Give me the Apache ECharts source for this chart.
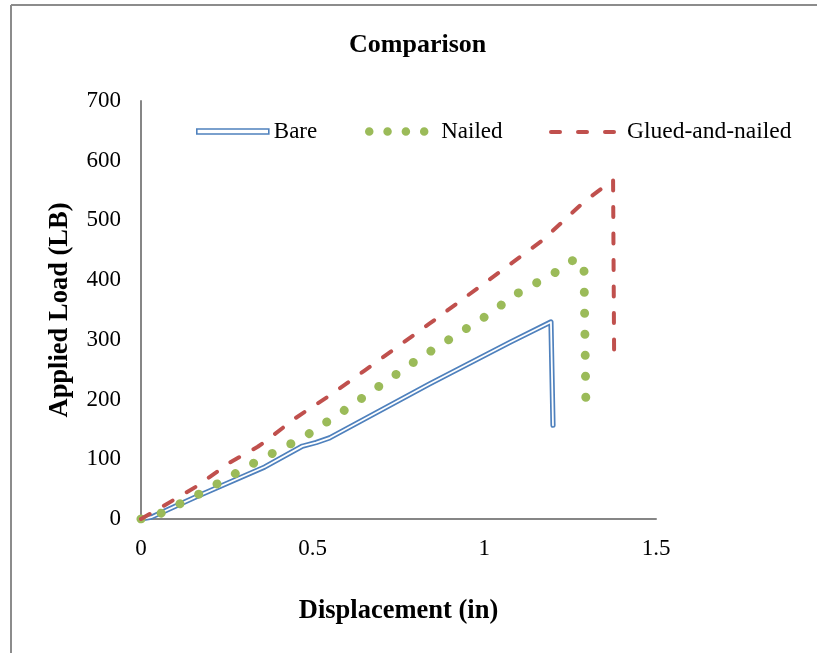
<!DOCTYPE html>
<html>
<head>
<meta charset="utf-8">
<style>html,body{margin:0;padding:0;background:#fff;}#c{width:817px;height:653px;}</style>
<script src="https://cdn.jsdelivr.net/npm/echarts@6/dist/echarts.min.js"></script>
</head>
<body>
<div id="c"></div>
<script>
const xTicks = [0, 0.5, 1, 1.5];
const yTicks = [0, 100, 200, 300, 400, 500, 600, 700];

const bareX = [0, 0.03, 0.16, 0.36, 0.47, 0.51, 0.55, 0.84, 1.075, 1.194, 1.200];
const bareY = [0, 3, 37, 87, 122, 128, 136, 226, 296, 330, 157];

const nailedX = [0, 0.06, 0.17, 0.33, 0.44, 0.49, 0.60, 0.80, 1.00, 1.10, 1.21, 1.26, 1.29, 1.296];
const nailedY = [0, 10, 42, 94, 127, 143, 185, 265, 338, 379, 414, 434, 430, 183];

const gluedX = [0, 0.06, 0.16, 0.26, 0.34, 0.355, 0.45, 0.55, 0.65, 0.84, 1.05, 1.17, 1.29, 1.375, 1.378];
const gluedY = [0, 20, 54, 95, 121, 127, 169, 207, 248, 327, 416, 467, 531, 568, 278];

const seriesNames = ['Bare', 'Nailed', 'Glued-and-nailed'];

const zip = (xs, ys) => xs.map((x, i) => [x, ys[i]]);
const FONT = "'Liberation Serif', 'Times New Roman', serif";
const BLUE = '#4f81bd', GREEN = '#9bbb59', RED = '#c0504d', AXIS = '#868686';
const hiddenSymbol = {color: 'rgba(0,0,0,0)', borderWidth: 0, opacity: 0};

const chart = echarts.init(document.getElementById('c'), null, {renderer: 'canvas'});
chart.setOption({
  animation: false,
  backgroundColor: '#fff',
  title: {
    text: 'Comparison', left: 349, top: 32, padding: 0,
    textStyle: {fontFamily: FONT, fontSize: 26, fontWeight: 'bold', color: '#000'}
  },
  graphic: [
    {type: 'line', shape: {x1: 11, y1: 5, x2: 11, y2: 653}, style: {stroke: '#8c8c8c', lineWidth: 2}, silent: true},
    {type: 'line', shape: {x1: 11, y1: 5, x2: 817, y2: 5}, style: {stroke: '#8c8c8c', lineWidth: 2}, silent: true}
  ],
  legend: [
    {
      data: [seriesNames[0]], left: 196, top: 120, padding: 0, selectedMode: false,
      itemWidth: 72, itemHeight: 5, icon: 'rect',
      itemStyle: {color: '#fff', borderColor: BLUE, borderWidth: 1.6},
      textStyle: {fontFamily: FONT, fontSize: 23, color: '#000'}
    },
    {
      data: [seriesNames[1]], left: 365, top: 120, padding: 0, selectedMode: false,
      itemWidth: 67, itemHeight: 14,
      itemStyle: hiddenSymbol,
      lineStyle: {type: [0.01, 18.3], width: 8.5, cap: 'round'},
      textStyle: {fontFamily: FONT, fontSize: 23, color: '#000'}
    },
    {
      data: [seriesNames[2]], left: 549, top: 120, padding: 0, selectedMode: false,
      itemWidth: 71, itemHeight: 14,
      itemStyle: hiddenSymbol,
      lineStyle: {type: [9, 18], width: 4, cap: 'round'},
      textStyle: {fontFamily: FONT, fontSize: 23.5, color: '#000'}
    }
  ],
  grid: {left: 141, right: 161, top: 101, bottom: 134, containLabel: false},
  xAxis: {
    type: 'value', min: xTicks[0], max: xTicks[xTicks.length - 1], interval: 0.5,
    name: 'Displacement (in)', nameLocation: 'middle', nameGap: 79,
    nameTextStyle: {fontFamily: FONT, fontSize: 26.5, fontWeight: 'bold', color: '#000'},
    axisLine: {lineStyle: {color: AXIS, width: 2}},
    axisTick: {show: false},
    splitLine: {show: false},
    axisLabel: {fontFamily: FONT, fontSize: 23, color: '#000', margin: 18}
  },
  yAxis: {
    type: 'value', min: yTicks[0], max: yTicks[yTicks.length - 1], interval: 100,
    name: 'Applied Load (LB)', nameLocation: 'middle', nameGap: 67,
    nameTextStyle: {fontFamily: FONT, fontSize: 26.5, fontWeight: 'bold', color: '#000'},
    axisLine: {show: true, lineStyle: {color: AXIS, width: 2}},
    axisTick: {show: false},
    splitLine: {show: false},
    axisLabel: {fontFamily: FONT, fontSize: 23, color: '#000', margin: 20}
  },
  series: [
    {
      name: seriesNames[0], type: 'line', data: zip(bareX, bareY), showSymbol: false, symbol: 'none',
      lineStyle: {color: BLUE, width: 5.2, join: 'round', cap: 'round'}, itemStyle: {color: BLUE}, z: 2
    },
    {
      name: 'bare-inner', type: 'line', data: zip(bareX, bareY), showSymbol: false, symbol: 'none',
      lineStyle: {color: '#ffffff', width: 1.8, join: 'round', cap: 'round'}, z: 3, silent: true
    },
    {
      name: seriesNames[1], type: 'line', data: zip(nailedX, nailedY), showSymbol: false, symbol: 'none',
      lineStyle: {color: GREEN, width: 9, type: [0.01, 21], cap: 'round', join: 'round'}, itemStyle: {color: GREEN}, z: 4
    },
    {
      name: seriesNames[2], type: 'line', data: zip(gluedX, gluedY), showSymbol: false, symbol: 'none',
      lineStyle: {color: RED, width: 4, type: [10, 16.5], cap: 'round', join: 'round'}, itemStyle: {color: RED}, z: 5
    }
  ]
});
</script>
</body>
</html>
